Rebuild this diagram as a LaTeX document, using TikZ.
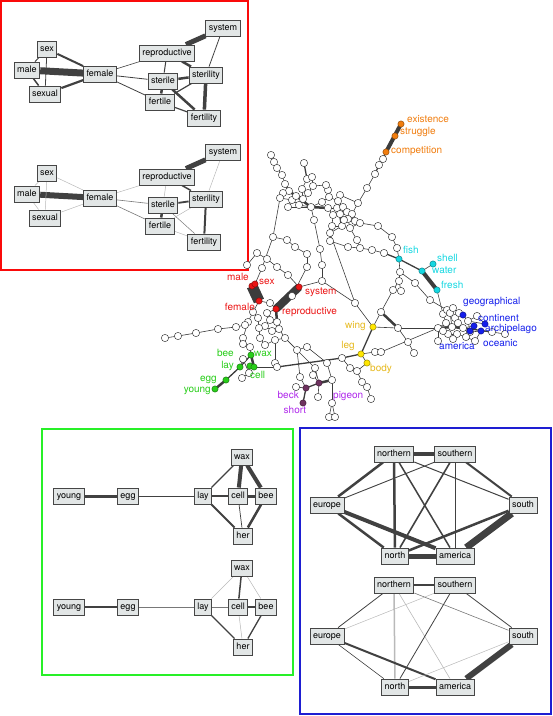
\documentclass[tikz,border=0pt]{standalone}
\usepackage{fontspec}
\setmainfont{TeX Gyre Heros}
\usetikzlibrary{backgrounds}
\definecolor{framered}{RGB}{250,10,10}
\definecolor{framegreen}{RGB}{40,240,40}
\definecolor{frameblue}{RGB}{30,30,210}
\definecolor{boxfill}{RGB}{226,230,230}
\definecolor{boxline}{RGB}{70,70,70}
\definecolor{edgedark}{RGB}{65,65,65}
\definecolor{edgemid}{RGB}{120,120,120}
\definecolor{edgelight}{RGB}{185,185,185}
\definecolor{netline}{RGB}{60,60,60}
\definecolor{netred}{RGB}{235,20,20}
\definecolor{netorange}{RGB}{240,125,15}
\definecolor{netcyan}{RGB}{20,215,225}
\definecolor{netblue}{RGB}{20,30,235}
\definecolor{netgreen}{RGB}{40,205,25}
\definecolor{netyellow}{RGB}{255,230,0}
\definecolor{labyellow}{RGB}{230,185,30}
\definecolor{netpurple}{RGB}{110,50,95}
\definecolor{labpurple}{RGB}{175,40,235}
\tikzset{
    termbox/.style = {draw=boxline, fill=boxfill, line width=0.9pt, rectangle, font=\fontsize{9}{10}\selectfont, inner xsep=3pt, inner ysep=0pt, minimum height=16pt, text height=6.6pt, text depth=1.9pt},
    wnode/.style = {circle, draw=netline, fill=white, line width=0.5pt, inner sep=0pt, minimum size=7.3pt},
    cnode/.style = {wnode, fill=#1, draw=#1!60!black},
    nlab/.style = {font=\fontsize{10}{11}\selectfont, inner sep=0pt, text=#1},
    ln/.style = {draw=netline, line width=0.6pt},
    lnm/.style = {draw=netline, line width=1.3pt},
    lnt/.style = {draw=netline, line width=2.5pt},
}

\begin{document}
\begin{tikzpicture}[x=1pt, y=-1pt]
\useasboundingbox (0,0) rectangle (553,716);

% frames round the three close-ups
\draw[framered, line width=2pt] (1,1) rectangle (248,270);
\draw[framegreen, line width=2pt] (42,429) rectangle (293,675);
\draw[frameblue, line width=2pt] (300,428) rectangle (551,714);

% red close-up, two versions
\foreach \n/\x/\y in {system/223/28, sex/47/49, reproductive/167/53, male/27/70, female/100/74, sterility/206/75, sterile/163/81, sexual/45/94, fertile/160/102, fertility/204/118}{
    \node[termbox] (r1-\n) at (\x,\y) {\n};
    \node[termbox] (r2-\n) at (\x,\y+124) {\n};
}
% green close-up
\foreach \n/\x/\y in {young/69/496, egg/128/496, lay/203/496, cell/238/496, bee/266/496, wax/242/457, her/243/536}{
    \node[termbox] (g1-\n) at (\x,\y) {\n};
    \node[termbox] (g2-\n) at (\x,\y+111) {\n};
}
% blue close-up
\foreach \n/\x/\y in {northern/394/454, southern/455/454, europe/327/505, south/523/505, north/395/556, america/455/556}{
    \node[termbox] (b1-\n) at (\x,\y) {\n};
    \node[termbox] (b2-\n) at (\x,\y+131) {\n};
}

\begin{scope}[on background layer]
\foreach \a/\b/\w/\c in {male/female/7/edgedark, reproductive/system/5/edgedark, sterility/fertility/3.5/edgedark, reproductive/sterility/2.5/edgedark, sterile/sterility/2.5/edgedark, sterile/fertile/2.5/edgedark, sterile/fertility/2.5/edgedark, sex/female/2/edgedark, sexual/female/2.2/edgedark, male/sexual/1.5/edgedark, male/sex/1/edgedark, sex/sexual/0.8/edgedark, female/reproductive/0.6/edgedark, female/sterile/0.8/edgedark, female/fertile/0.8/edgedark, reproductive/sterile/1/edgedark, system/sterility/0.8/edgedark, fertile/sterility/1.2/edgedark, fertile/fertility/1.2/edgedark}
    \draw[line width=\w pt, draw=\c] (r1-\a) -- (r1-\b);
\foreach \a/\b/\w/\c in {male/female/6/edgedark, reproductive/system/5/edgedark, sterility/fertility/2/edgedark, reproductive/sterility/1.5/edgedark, sterile/sterility/1.8/edgedark, sterile/fertile/2.5/edgedark, sterile/fertility/0.5/edgemid, sex/female/0.5/edgelight, sexual/female/0.5/edgelight, male/sexual/0.5/edgelight, male/sex/0.5/edgelight, sex/sexual/0.5/edgelight, female/reproductive/0.5/edgelight, female/sterile/0.6/edgemid, female/fertile/0.6/edgemid, reproductive/sterile/0.5/edgelight, system/sterility/0.5/edgelight, fertile/sterility/0.5/edgelight, fertile/fertility/0.5/edgelight}
    \draw[line width=\w pt, draw=\c] (r2-\a) -- (r2-\b);
\foreach \a/\b/\w/\c in {young/egg/3/edgedark, egg/lay/0.7/edgedark, lay/wax/1.2/edgedark, lay/cell/2.2/edgedark, lay/her/2/edgedark, wax/cell/4/edgedark, wax/bee/4/edgedark, cell/bee/3/edgedark, cell/her/0.7/edgedark, bee/her/2.5/edgedark}
    \draw[line width=\w pt, draw=\c] (g1-\a) -- (g1-\b);
\foreach \a/\b/\w/\c in {young/egg/2.5/edgedark, egg/lay/0.7/edgemid, lay/wax/0.5/edgelight, lay/cell/0.7/edgemid, lay/her/1.3/edgedark, wax/cell/1.5/edgedark, wax/bee/0.5/edgelight, cell/bee/1.5/edgedark, cell/her/0.5/edgelight, bee/her/1.3/edgedark}
    \draw[line width=\w pt, draw=\c] (g2-\a) -- (g2-\b);
\foreach \a/\b/\w/\c in {northern/southern/4/edgedark, northern/europe/2.5/edgedark, northern/north/2.5/edgedark, northern/america/1.5/edgedark, northern/south/1/edgedark, southern/europe/0.9/edgedark, southern/north/1.6/edgedark, southern/america/1/edgedark, southern/south/2/edgedark, europe/north/2.5/edgedark, europe/america/4/edgedark, south/north/2.5/edgedark, south/america/7/edgedark, north/america/5/edgedark}
    \draw[line width=\w pt, draw=\c] (b1-\a) -- (b1-\b);
\foreach \a/\b/\w/\c in {northern/southern/2/edgedark, northern/europe/0.8/edgedark, northern/north/1.5/edgelight, northern/america/0.6/edgelight, northern/south/0.6/edgemid, southern/europe/0.5/edgelight, southern/north/0.8/edgedark, southern/south/0.8/edgedark, europe/north/0.6/edgedark, europe/america/2/edgedark, south/north/0.5/edgelight, south/america/6/edgedark, north/america/3/edgedark}
    \draw[line width=\w pt, draw=\c] (b2-\a) -- (b2-\b);
\end{scope}

% the whole word network
\foreach \n/\x/\y in {tl1/271/155, tl2/274/162, tl3/277/168, tl4/282/175, tl5/285/184, tl6/289/191, tl7/283/193, tl8/280/198, tl9/292/200, tl10/288/207, tl11/296/196, tl12/304/163, tl13/307/179, tl14/312/177, tl15/313/186, tl16/302/189, tl17/308/193, tl18/311/207, tl19/303/199, tl20/314/220, tl21/299/205,
    mc1/328/190, mc2/329/197, mc3/322/202, mc4/340/195, mc5/338/201, mc6/328/208, mc7/337/208, mc8/343/207, mc9/347/212, mc10/352/214, mc11/333/215, mc12/340/214, mc13/348/219, mc14/355/221, mc15/360/223, mc16/332/226, mc17/342/226, mc18/350/228, mc19/358/203, mc20/344/220, mc21/326/185,
    oc1/383/159, oc2/379/165, oc3/375/174, oc4/367/188,
    um1/273/237, um2/287/240, um3/295/247, um4/307/254, um5/320/249, um6/322/265, um7/322/281, um8/257/253, um9/267/259, um10/277/267, um11/288/275, um12/307/267, um13/262/268, um14/330/233, um15/330/241, um16/348/247, um17/360/248, um18/372/250, um19/384/253, um20/357/240, um21/247/265,
    ra1/378/226, ra2/392/237, ra3/397/248, ra4/400/272, ra5/399/281, ra6/393/290, ra7/401/291, ra9/381/312, ra10/398/328, ra11/408/342, ra12/414/353, ra13/415/283, ra14/430/300,
    rc1/438/328, rc2/443/314, rc3/447/310, rc4/450/313, rc5/453/308, rc6/455/318, rc7/459/313, rc8/446/323, rc9/452/327, rc10/458/323, rc11/463/328, rc12/468/321, rc13/470/332, rc14/477/316, rc15/448/334, rc16/457/334, rc17/466/337, rc18/438/341, rc19/475/341, rc20/492/332, rc21/505/334, rc22/453/339, rc23/443/331,
    lr1/270/303, lr2/253/312, lr3/258/318, lr4/267/313, lr5/270/320, lr6/265/326, lr7/259/328, lr8/277/322, lr9/272/331, lr10/279/329, lr13/248/322, lr14/243/338, lr15/243/344, lr16/250/347, lr17/260/338, lr18/265/345, lr19/275/340, lr20/285/338, lr21/297/350, lr22/307/347, lr23/275/363, lr24/315/368, lr25/243/359, lr26/249/373, lr27/242/378,
    lc1/165/338, lc2/178/336, lc3/196/333, lc4/218/329, lc5/236/327, lc6/245/325,
    bt1/277/367, bt2/342/358, bt3/375/352, bt4/381/352, bt5/327/363, bt6/350/368, bt7/357/371, bt8/362/382, bt9/367/387, bt10/371/399, bt11/332/380, bt12/332/403, bt13/329/417, bt14/335/417, bt15/300/377, bt16/296/387, bt17/318/397, bt19/355/303, bt20/313/375}
    \node[wnode] (\n) at (\x,\y) {};

\foreach \n/\x/\y/\c in {existence/401/124/netorange, struggle/395/136/netorange, competition/386/152/netorange,
    fish/399/259/netcyan, shell/433/264/netcyan, water/422/271/netcyan, fresh/437/290/netcyan,
    geographical/463/315/netblue, continent/485/324/netblue, archipelago/481/331/netblue, oceanic/474/326/netblue, america/470/331/netblue,
    male/252/286/netred, sex/255/284/netred, female/259/301/netred, system/299/287/netred, reproductive/276/309/netred,
    bee/250/366/netgreen, wax/251/355/netgreen, lay/240/367/netgreen, cell/254/367/netgreen, egg/226/380/netgreen, young/215/389/netgreen,
    wing/373/327/netyellow, leg/361/354/netyellow, body/367/363/netyellow,
    beck/306/388/netpurple, short/303/403/netpurple, pigeon/319/383/netpurple}
    \node[cnode=\c, minimum size=6.3pt] (\n) at (\x,\y) {};
\node[wnode] (band) at (292,296) {};

\begin{scope}[on background layer]
\foreach \a/\b in {tl1/tl2, tl2/tl3, tl3/tl4, tl4/tl5, tl7/tl6, tl7/tl8, tl8/tl9, tl9/tl10, tl10/tl18, tl9/tl21, tl21/tl18, tl16/tl19, tl19/tl11, tl17/tl15, tl14/tl15, tl13/tl14, tl13/tl16, tl15/mc21, mc21/mc1, mc1/mc2, mc2/mc3, mc3/tl18, mc2/mc5, mc4/mc5, mc5/mc8, mc8/mc9, mc9/mc10, mc10/mc14, mc13/mc14, mc14/mc15, mc6/mc11, mc11/mc16, mc16/mc17, mc17/mc18, mc18/mc15, mc13/mc18, mc19/mc10, mc20/mc13, mc12/mc20, mc6/mc7, mc4/mc19, oc3/oc4, oc4/mc19, tl18/tl20, tl20/um5, um5/um6, um6/um7, tl8/um1, um1/um13, um13/sex, um1/um2, um2/um3, um3/um4, um4/um12, um12/band, um8/um9, um9/um10, um10/um11, um11/system, um21/um8, um14/um15, um15/um16, um16/um17, um17/um18, um18/um19, mc15/ra1, ra1/ra2, ra2/ra3, ra3/fish, mc17/um14, um20/mc18, um20/um17,
    shell/water, fish/ra4, ra4/ra5, ra5/ra6, ra5/ra7, ra6/ra9, ra4/ra13, ra13/ra14, ra14/rc3, fresh/rc2, wing/ra10, ra10/rc1, ra10/ra11, ra11/ra12, leg/body, leg/bt3, bt3/bt4, bt4/rc1, um14/bt19, bt19/wing, um7/bt19, um7/system, ra9/wing,
    rc1/rc8, rc2/rc3, rc3/rc5, rc4/rc6, rc5/rc7, rc6/rc10, rc7/geographical, rc8/rc9, rc9/rc10, rc10/rc11, rc11/rc13, rc12/rc14, rc12/continent, rc13/rc17, rc13/archipelago, rc14/continent, rc15/rc16, rc16/rc17, rc17/rc19, rc18/rc1, rc19/archipelago, rc20/rc21, archipelago/rc20, rc22/rc15, rc23/rc15, rc1/rc23, rc2/rc8, rc4/rc9, oceanic/rc11, america/rc12, geographical/rc12,
    female/lr1, reproductive/lr1, reproductive/lr4, lr4/lr5, lr5/lr6, lr6/lr7, lr7/lr3, lr3/lr2, lr2/female, lr2/lr13, lr13/lc6, lc6/lc5, lc5/lc4, lc4/lc3, lc3/lc2, lc2/lc1, lr13/lr14, lr14/lr15, lr15/lr16, lr16/wax, lay/lr25, lr25/lr26, lr26/lr27, lr17/lr18, lr18/lr19, lr19/lr20, lr20/lr21, lr21/lr22, lr8/lr10, lr10/lr9, lr9/lr6, lr10/lr20, lr7/lr17, lr19/lr23, cell/bt1, lr22/bt5, lr21/bt15, bt15/beck, bt16/beck, bt20/pigeon, lr24/pigeon, bt17/pigeon, bt5/bt11, bt11/bt12, bt12/bt13, bt12/bt14, bt2/bt6, bt6/bt7, body/bt7, bt7/bt8, bt8/bt9, bt9/bt10, lr20/lr24}
    \draw[ln] (\a.center) -- (\b.center);
\foreach \a/\b in {tl5/tl6, tl12/tl13, bt1/bt2, bt2/leg, wing/leg, lay/egg, lay/wax, cell/bee, beck/pigeon, beck/short, rc8/rc11, rc11/rc20, oc3/oc2, oc2/oc1, competition/oc1, um19/fish, fish/water}
    \draw[lnm] (\a.center) -- (\b.center);
\foreach \a/\b in {tl6/tl11, tl11/tl18, tl18/mc6, mc5/mc7, mc7/mc12, mc12/mc17, reproductive/lr8, pigeon/bt11, ra9/ra10, wax/cell, rc1/rc9, rc9/rc11, egg/young}
    \draw[lnt] (\a.center) -- (\b.center);
\draw[netline, line width=11pt] (male.center) -- (female.center);
\draw[netline, line width=8pt] (reproductive.center) -- (system.center);
\draw[netline, line width=4pt] (competition.center) -- (existence.center);
\draw[netline, line width=4pt] (water.center) -- (fresh.center);
\end{scope}

% labels of the coloured words
\node[nlab=netorange, anchor=west] (lab-existence) at (407,119) {existence};
\node[nlab=netorange, anchor=west] (lab-struggle) at (400,132) {struggle};
\node[nlab=netorange, anchor=west] (lab-competition) at (391,151) {competition};
\node[nlab=netcyan, anchor=west] (lab-fish) at (403,250) {fish};
\node[nlab=netcyan, anchor=west] (lab-shell) at (437,258) {shell};
\node[nlab=netcyan, anchor=west] (lab-water) at (432,270) {water};
\node[nlab=netcyan, anchor=west] (lab-fresh) at (441,285) {fresh};
\node[nlab=netblue, anchor=west] (lab-geographical) at (463,302) {geographical};
\node[nlab=netblue, anchor=west] (lab-continent) at (478,318) {continent};
\node[nlab=netblue, anchor=west] (lab-archipelago) at (485,329) {archipelago};
\node[nlab=netblue, anchor=west] (lab-oceanic) at (483,343) {oceanic};
\node[nlab=netblue] (lab-america) at (457,346) {america};
\node[nlab=netred, anchor=east] (lab-male) at (249,277) {male};
\node[nlab=netred, anchor=west] (lab-sex) at (259,282) {sex};
\node[nlab=netred, anchor=west] (lab-system) at (305,292) {system};
\node[nlab=netred, anchor=east] (lab-female) at (255,307) {female};
\node[nlab=netred, anchor=west] (lab-reproductive) at (282,312) {reproductive};
\node[nlab=labyellow, anchor=east] (lab-wing) at (366,326) {wing};
\node[nlab=labyellow, anchor=east] (lab-leg) at (355,346) {leg};
\node[nlab=labyellow, anchor=west] (lab-body) at (370,369) {body};
\node[nlab=netgreen, anchor=east] (lab-bee) at (234,353) {bee};
\node[nlab=netgreen, anchor=west] (lab-wax) at (254,354) {wax};
\node[nlab=netgreen, anchor=east] (lab-lay) at (234,366) {lay};
\node[nlab=netgreen, anchor=west] (lab-cell) at (250,375) {cell};
\node[nlab=netgreen, anchor=east] (lab-egg) at (217,380) {egg};
\node[nlab=netgreen, anchor=east] (lab-young) at (211,391) {young};
\node[nlab=labpurple, anchor=east] (lab-beck) at (299,395) {beck};
\node[nlab=labpurple] (lab-short) at (295,410) {short};
\node[nlab=labpurple, anchor=west] (lab-pigeon) at (333,396) {pigeon};
\end{tikzpicture}
\end{document}
